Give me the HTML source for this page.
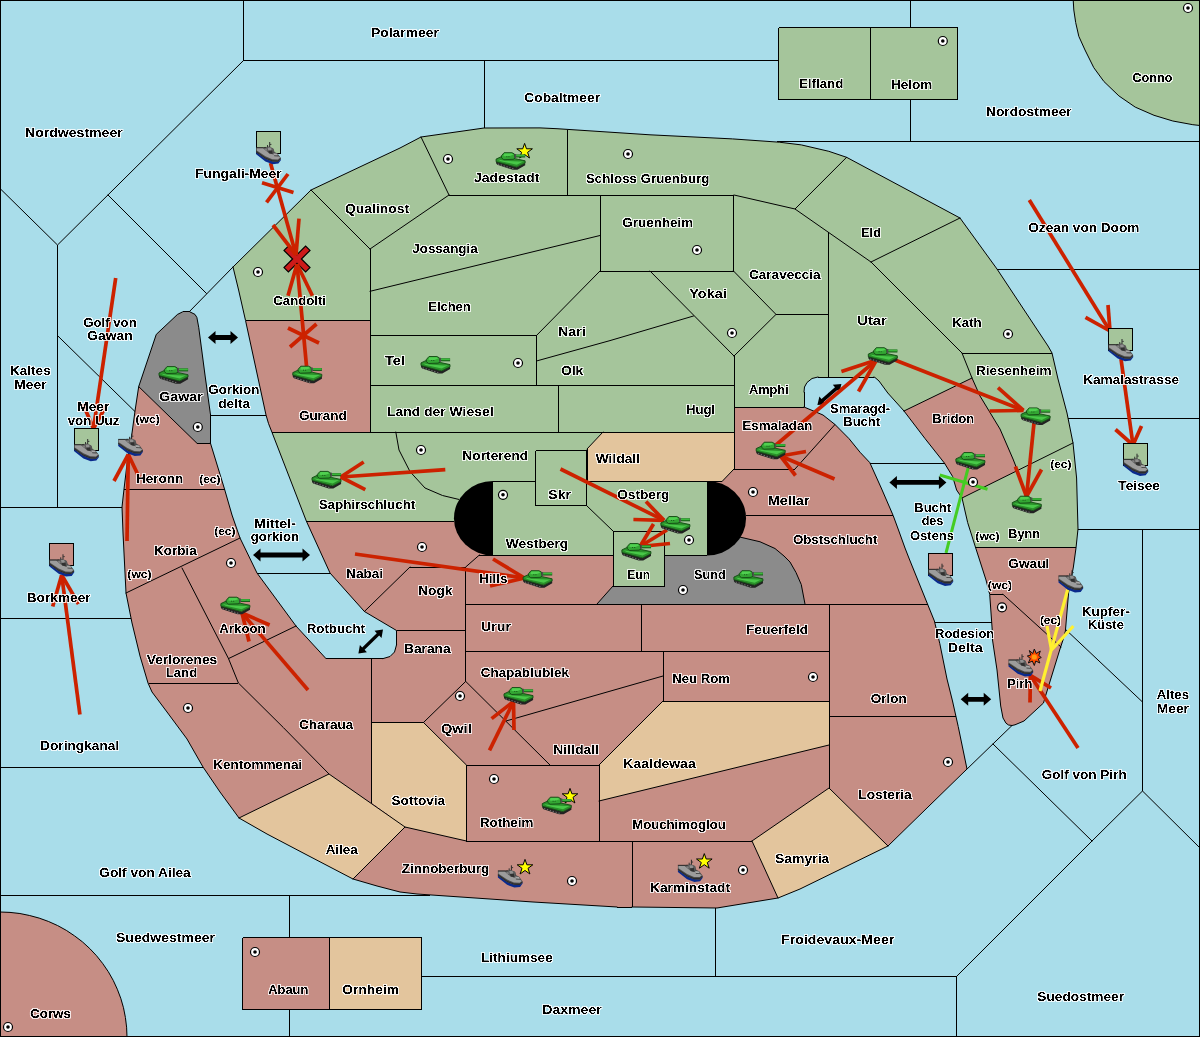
<!DOCTYPE html>
<html><head><meta charset="utf-8"><title>Map</title>
<style>html,body{margin:0;padding:0;background:#A9DDEA;overflow:hidden}svg{display:block}text{font-family:"Liberation Sans",sans-serif;font-weight:bold;font-size:13.4px;fill:#000}.s{font-size:11.5px}.b{fill:none;stroke:#000;stroke-width:1}.d{stroke-width:1;stroke-linecap:round;stroke-linejoin:round}</style></head><body>
<svg width="1200" height="1037" viewBox="0 0 1200 1037">
<rect width="1200" height="1037" fill="#A9DDEA"/>
<g class="b" shape-rendering="crispEdges"><polyline points="243.5,0 243.5,60.5 910.5,60.5"/><polyline points="57.5,245 57.5,507.5"/><polyline points="0,507.5 125,507.5"/><polyline points="484.5,60.5 484.5,130"/><polyline points="910.5,0 910.5,141.5"/><polyline points="777,141.5 1200,141.5"/><polyline points="995,269.5 1200,269.5"/><polyline points="1066,418.5 1200,418.5"/><polyline points="1076,529.5 1200,529.5"/><polyline points="1142.5,529.5 1142.5,791"/><polyline points="421,976.5 956.5,976.5 956.5,1037"/><polyline points="715.5,906 715.5,976.5"/><polyline points="0,618.5 133,618.5"/><polyline points="0,767.5 205,767.5"/><polyline points="0,895.5 430,895.5"/><polyline points="289.5,895.5 289.5,1037"/><polyline points="209,415.5 266,415.5"/><polyline points="256,573.5 331,573.5"/><polyline points="869,463.5 949,463.5"/><polyline points="934,622.5 993,622.5"/></g><g class="b d"><polyline points="243.5,60.5 57.5,245 0,188.5"/><polyline points="108,195 206.5,293.5"/><polyline points="233,267 189,312"/><polyline points="57.5,335.6 136,412.5"/><polyline points="1063,627 1142.5,702"/><polyline points="1142.5,791 1200,848"/><polyline points="1142.5,791 1092,841 956.5,976.5"/><polyline points="993,744 1092,841"/><polyline points="965,771 1012,725.5"/></g>
<g shape-rendering="crispEdges">
<polygon points="233,267 311,190 400,148 421,137 484,128 540,127.9 557,128.7 650,134.8 732.5,138.9 779.3,142.2 801.3,144.9 828.8,151.3 846.6,157.3 960,218 997,269 1048,346 1052,353 1058,379 1067,413 1073,443 1076.6,478 1078,529 1076,548 1073.4,567 1068.6,592.7 1065.4,631 1063,640 1060,649 1045,697.7 1043.5,703 1024,721 1015,724.8 1012,725.5 1008.5,725 1006,723.2 1003,718 1000.7,706 997,670 992.5,640 992.3,631 989.7,594.3 986,580 975.4,547 967.7,522.7 962,498 956.6,490 952.6,476.5 944.5,463.2 924.8,438.3 904,411 887.8,393 879,381 875,377.5 874,377 818,377 812,378.5 807,382.5 804.5,387 804,392 804,407 823,415 835,424.5 849,438.6 860,452.2 869.8,462.6 881.7,489 893.2,515.6 898.5,530 905,548 909.3,559 927.5,604 934.4,621 939.8,643.6 947,679 952.5,701 958.2,726.4 967,769 888,846 800,889 778,898 717,908 632,907 617,907 533,902 417,894 400,892 377,886 353,879 307,855 267,834 239,818 220,792 203,767 187,739 167,712 152,692 148,683 140,656 132,623 126,593 123,533 122,507 124,489 127,464 132,433 135,411 138.7,386.6 156.25,334.4 177.5,314.4 182.5,311.9 190,311.9 195,314.4 196.9,317.5 198.75,327.5 205,375 210.4,414 210.4,443 224.5,489 232,515 240,538 257,573 296,626 326,658.6 383,658.6 390,656.5 394.5,652 396.5,645 396.5,630.5 364.4,611.5 330,573 306.3,521 272,432.4 268.5,423.5 266,415 245.5,320.4 238.6,290" fill="#C68E85"/>
<polygon points="233,267 311,190 400,148 421,137 484,128 540,127.9 557,128.7 650,134.8 732.5,138.9 779.3,142.2 801.3,144.9 828.8,151.3 846.6,157.3 960,218 997,269 1048,346 1052,353 1058,379 1067,413 1073,443 1076.6,478 1078,529 1076,548 975.4,547 967.7,522.7 962,498 1017.5,470.5 1013,459 1000,429 980,396 972,378 904,411 887.8,393 879,381 875,377.5 874,377 818,377 812,378.5 807,382.5 804.5,387 804,392 804,407 734,407 734,432 603,432 587,449 587,482 707,482 707,555 664,555 664,586 613,586 613,555 493,555 470,545 454,521 306.3,521 272,432.4 370,432 370,320.4 245.5,320.4 238.6,290" fill="#A5C59B"/>
<rect x="535.5" y="450.5" width="51" height="55" fill="#A5C59B"/>
<polygon points="603,432 734,432 734,469 722,482 587,482 587,449" fill="#E3C59D"/>
<polygon points="371.6,722.5 423.5,722.5 466.4,765 466.4,841 405,827 371.6,802.5" fill="#E3C59D"/>
<polygon points="239,818 329,774 405,827 353,879 307,855 267,834" fill="#E3C59D"/>
<polygon points="663,701 829,701 829,745 599,801 599,765" fill="#E3C59D"/>
<polygon points="752,841 829,788 888,846 800,889 778,898" fill="#E3C59D"/>
<polygon points="664,555 707,555 720,552 740.5,537.2 760,541.75 775,548.5 784,556 790,562 796,572.5 801.25,584.5 805,604 597,604 613,586 664,586" fill="#8B8B8B"/>
<polygon points="138.7,386.6 156.25,334.4 177.5,314.4 182.5,311.9 190,311.9 195,314.4 196.9,317.5 198.75,327.5 205,375 210.4,414 210.4,443 196.7,443" fill="#8B8B8B"/>
<rect x="778.5" y="27.5" width="179" height="72" fill="#A5C59B"/>
<polygon points="1073.2,0 1073.8,10 1075.7,22.6 1078.8,36.3 1085,50 1093.8,67.7 1103.9,81.5 1118.9,95.9 1135.2,107.1 1154,115.3 1172.8,121 1192.8,124.7 1200,125.5 1200,0" fill="#A5C59B"/>
<polygon points="-0,912 10,912.4 19.9,913.5 29.6,915.5 39.2,918.1 48.6,921.5 57.7,925.6 66.4,930.4 74.6,935.9 82.5,941.9 89.8,948.6 96.6,955.8 102.7,963.5 108.3,971.7 113.2,980.3 117.3,989.2 120.8,998.4 123.5,1007.8 125.4,1017.4 126.6,1027.2 127,1037 0,1037" fill="#C68E85"/>
<rect x="242.5" y="937.5" width="87" height="72" fill="#C68E85"/>
<rect x="329.5" y="937.5" width="92" height="72" fill="#E3C59D"/>
</g>
<g class="b" shape-rendering="crispEdges"><polyline points="874,377 818,377"/><polyline points="804,392 804,407"/><polyline points="632,907 617,907"/><polyline points="182.5,311.9 190,311.9"/><polyline points="210.4,414 210.4,443"/><polyline points="326,658.6 383,658.6"/><polyline points="396.5,645 396.5,630.5"/><polyline points="370,249 370,432"/><polyline points="449,195 734,195"/><polyline points="567,129.8 567,195"/><polyline points="600,195 600,271 733.5,271 733.5,195"/><polyline points="536.5,335.5 536.5,385.4"/><polyline points="370,335.5 536.5,335.5"/><polyline points="734,356 734,469"/><polyline points="776,314.4 828,314.4"/><polyline points="828,232 828,377"/><polyline points="370,385.4 734,385.4"/><polyline points="558,385.4 558,432"/><polyline points="272,432 734,432"/><polyline points="734,407 804,407"/><polyline points="962,353 1052,353"/><polyline points="975.4,547.5 1076,547.5"/><polyline points="989.7,594.3 1003,594.3"/><polyline points="245.5,320.4 370,320.4"/><polyline points="587,449 587,481.5"/><polyline points="492.5,481.5 535.5,481.5"/><polyline points="586.5,481.5 722,481.5"/><polyline points="535.5,450.5 586.5,450.5 586.5,505.5 535.5,505.5 535.5,450.5"/><polyline points="492.5,481.5 492.5,555"/><polyline points="707,481.5 707,555"/><polyline points="479.4,555 613,555"/><polyline points="664,555 707,555"/><polyline points="613,531 664,531 664,586 613,586 613,531"/><polyline points="734,469 795,469"/><polyline points="746,515 893,515"/><polyline points="465.7,604 927.5,604"/><polyline points="641,604 641,651.5"/><polyline points="465.7,651.5 829,651.5"/><polyline points="829,604 829,788"/><polyline points="663,651.5 663,701 829,701"/><polyline points="829,716 955.5,716"/><polyline points="466.4,765 599,765 599,841"/><polyline points="466.4,765 466.4,841 752,841"/><polyline points="632,841 632,907"/><polyline points="371.6,722.5 423.5,722.5"/><polyline points="371.6,658.6 371.6,802.5"/><polyline points="149,683 238.4,683"/><polyline points="124,489 224.5,489"/><polyline points="196.7,443 210.4,443"/><polyline points="465.7,567 465.7,681.4"/><polyline points="396.5,630.3 465.7,630.3"/><polyline points="465.7,567 410,567"/><polyline points="306.3,521 454,521"/><polyline points="778.5,27.5 957.5,27.5 957.5,99.5 778.5,99.5 778.5,27.5"/><polyline points="870.5,27.5 870.5,99.5"/><polyline points="242.5,937.5 421.5,937.5 421.5,1009.5 242.5,1009.5 242.5,937.5"/><polyline points="329.5,937.5 329.5,1009.5"/></g><g class="b d"><polyline points="233,267 311,190 400,148 421,137 484,128 540,127.9 557,128.7 650,134.8 732.5,138.9 779.3,142.2 801.3,144.9 828.8,151.3 846.6,157.3 960,218 997,269 1048,346 1052,353 1058,379 1067,413 1073,443 1076.6,478 1078,529 1076,548 1073.4,567 1068.6,592.7 1065.4,631 1063,640 1060,649 1045,697.7 1043.5,703 1024,721 1015,724.8 1012,725.5 1008.5,725 1006,723.2 1003,718 1000.7,706 997,670 992.5,640 992.3,631 989.7,594.3 986,580 975.4,547 967.7,522.7 962,498 956.6,490 952.6,476.5 944.5,463.2 924.8,438.3 904,411 887.8,393 879,381 875,377.5 874,377"/><polyline points="818,377 812,378.5 807,382.5 804.5,387 804,392"/><polyline points="804,407 823,415 835,424.5 849,438.6 860,452.2 869.8,462.6 881.7,489 893.2,515.6 898.5,530 905,548 909.3,559 927.5,604 934.4,621 939.8,643.6 947,679 952.5,701 958.2,726.4 967,769 888,846 800,889 778,898 717,908 632,907"/><polyline points="617,907 533,902 417,894 400,892 377,886 353,879 307,855 267,834 239,818 220,792 203,767 187,739 167,712 152,692 148,683 140,656 132,623 126,593 123,533 122,507 124,489 127,464 132,433 135,411 138.7,386.6 156.25,334.4 177.5,314.4 182.5,311.9"/><polyline points="190,311.9 195,314.4 196.9,317.5 198.75,327.5 205,375 210.4,414"/><polyline points="210.4,443 224.5,489 232,515 240,538 257,573 296,626 326,658.6"/><polyline points="383,658.6 390,656.5 394.5,652 396.5,645"/><polyline points="396.5,630.5 364.4,611.5 330,573 306.3,521 272,432.4 268.5,423.5 266,415 245.5,320.4 238.6,290 233,267"/><polyline points="311,190 370,249"/><polyline points="370,249 449,195"/><polyline points="421,137 449,195"/><polyline points="734,195 795,209"/><polyline points="846.6,157.3 795,209 871,262 962,353"/><polyline points="370,291.3 600,235.5"/><polyline points="600,271 536.5,335.5"/><polyline points="536.5,361 610,340.6 693.5,316"/><polyline points="650,271 734,356"/><polyline points="733.5,271 776,314.4 734,356"/><polyline points="734,469 722,481.5"/><polyline points="960,218 871,262"/><polyline points="962,353 972,378 980,396 1000,429 1013,459 1017.5,470.5"/><polyline points="972,378 904,411"/><polyline points="962,498 1073,443"/><polyline points="1003,594.3 1061,647"/><polyline points="603,432 587,449"/><polyline points="586.5,505.5 613,531"/><polyline points="740.5,537.2 760,541.75 775,548.5 784,556 790,562 796,572.5 801.25,584.5 805,604"/><polyline points="597,604 613,586"/><polyline points="795,469 835,424.5"/><polyline points="663,676 506,721"/><polyline points="663,701 599,765"/><polyline points="599,801 829,745"/><polyline points="752,841 829,788 888,846"/><polyline points="752,841 778,898"/><polyline points="423.5,722.5 466.4,765"/><polyline points="466.4,841 405,827 353,879"/><polyline points="329,774 405,827"/><polyline points="182,568 228.5,658.6 238.4,683 283.4,727.6 329,774 239,818"/><polyline points="228.5,658.6 296,626"/><polyline points="240,538 126,593"/><polyline points="138.7,386.6 196.7,443"/><polyline points="465.7,681.4 423.5,722.5"/><polyline points="465.7,681.4 550,765"/><polyline points="479.4,555 465.7,567"/><polyline points="410,567 364.4,611.5"/><polyline points="395.8,432 399,450 410,471.6 425,488 442.5,495.5 458.7,499.4"/><polyline points="1073.2,0 1073.8,10 1075.7,22.6 1078.8,36.3 1085,50 1093.8,67.7 1103.9,81.5 1118.9,95.9 1135.2,107.1 1154,115.3 1172.8,121 1192.8,124.7 1200,125.5"/><polyline points="-0,912 10,912.4 19.9,913.5 29.6,915.5 39.2,918.1 48.6,921.5 57.7,925.6 66.4,930.4 74.6,935.9 82.5,941.9 89.8,948.6 96.6,955.8 102.7,963.5 108.3,971.7 113.2,980.3 117.3,989.2 120.8,998.4 123.5,1007.8 125.4,1017.4 126.6,1027.2 127,1037"/></g>
<rect class="b" shape-rendering="crispEdges" x="0.5" y="0.5" width="1199" height="1036"/>
<path d="M493,481 A39,37.2 0 0 0 493,555.5 Z" fill="#000"/>
<path d="M707,481 A39,37.2 0 0 1 707,555.5 Z" fill="#000"/>
<polygon points="208,337.5 215.5,344 215.5,339.9 230.5,339.9 230.5,344 238,337.5 230.5,331 230.5,335.1 215.5,335.1 215.5,331" fill="#000"/>
<polygon points="253,555 260.5,561.5 260.5,557.4 302.5,557.4 302.5,561.5 310,555 302.5,548.5 302.5,552.6 260.5,552.6 260.5,548.5" fill="#000"/>
<polygon points="358.4,653.5 366.9,652.2 364.6,649.8 379.2,635.6 381.5,638 383,629.5 374.5,630.8 376.8,633.2 362.2,647.4 359.9,645" fill="#000"/>
<polygon points="817.4,405 826,404.2 823.8,401.7 837.3,389.9 839.4,392.4 841.4,384 832.8,384.8 835,387.3 821.5,399.1 819.4,396.6" fill="#000"/>
<polygon points="889.4,482.4 896.9,488.9 896.9,484.8 938.9,484.8 938.9,488.9 946.4,482.4 938.9,475.9 938.9,480 896.9,480 896.9,475.9" fill="#000"/>
<polygon points="960.7,699.3 968.2,705.8 968.2,701.7 983.7,701.7 983.7,705.8 991.2,699.3 983.7,692.8 983.7,696.9 968.2,696.9 968.2,692.8" fill="#000"/>
<polygon transform="translate(297,259)" points="0,-4.4 8.6,-13 13,-8.6 4.4,0 13,8.6 8.6,13 0,4.4 -8.6,13 -13,8.6 -4.4,0 -13,-8.6 -8.6,-13" fill="#CC1A1A" stroke="#000" stroke-width="1.2"/>
<g stroke="#CC2200" stroke-width="3.7" fill="none" stroke-linecap="butt"><line x1="270.5" y1="163" x2="296" y2="255"/><line x1="296" y1="255" x2="273" y2="225"/><line x1="296" y1="255" x2="299" y2="218.6"/></g>
<g stroke="#CC2200" stroke-width="3.7" fill="none" stroke-linecap="butt"><line x1="262" y1="182.7" x2="293.5" y2="192.4"/></g>
<g stroke="#CC2200" stroke-width="3.7" fill="none" stroke-linecap="butt"><line x1="288" y1="174" x2="266.5" y2="202.4"/></g>
<g stroke="#CC2200" stroke-width="3.7" fill="none" stroke-linecap="butt"><line x1="306.5" y1="366" x2="297" y2="264"/><line x1="297" y1="264" x2="288" y2="295.7"/><line x1="297" y1="264" x2="312.4" y2="295.7"/></g>
<g stroke="#CC2200" stroke-width="3.7" fill="none" stroke-linecap="butt"><line x1="288" y1="328" x2="319" y2="343"/></g>
<g stroke="#CC2200" stroke-width="3.7" fill="none" stroke-linecap="butt"><line x1="316.5" y1="324" x2="290" y2="347"/></g>
<g stroke="#CC2200" stroke-width="3.7" fill="none" stroke-linecap="butt"><line x1="115.7" y1="278" x2="93.5" y2="428.5"/><line x1="93.5" y1="428.5" x2="83" y2="404"/><line x1="93.5" y1="428.5" x2="106" y2="406"/></g>
<g stroke="#CC2200" stroke-width="3.7" fill="none" stroke-linecap="butt"><line x1="127" y1="541" x2="128.3" y2="454.5"/><line x1="128.3" y1="454.5" x2="114" y2="481"/><line x1="128.3" y1="454.5" x2="140" y2="479"/></g>
<g stroke="#CC2200" stroke-width="3.7" fill="none" stroke-linecap="butt"><line x1="79.9" y1="714.5" x2="61.7" y2="575"/><line x1="61.7" y1="575" x2="52.7" y2="606.6"/><line x1="61.7" y1="575" x2="78.5" y2="604"/></g>
<g stroke="#CC2200" stroke-width="3.7" fill="none" stroke-linecap="butt"><line x1="445.3" y1="469.6" x2="340.7" y2="477"/><line x1="340.7" y1="477" x2="363.7" y2="462"/><line x1="340.7" y1="477" x2="365.3" y2="489.6"/></g>
<g stroke="#CC2200" stroke-width="3.7" fill="none" stroke-linecap="butt"><line x1="355" y1="554" x2="524.5" y2="578"/><line x1="524.5" y1="578" x2="493" y2="559"/><line x1="524.5" y1="578" x2="490" y2="586"/></g>
<g stroke="#CC2200" stroke-width="3.7" fill="none" stroke-linecap="butt"><line x1="308" y1="690" x2="242" y2="613"/><line x1="242" y1="613" x2="269.6" y2="625"/><line x1="242" y1="613" x2="249" y2="641.5"/></g>
<g stroke="#CC2200" stroke-width="3.7" fill="none" stroke-linecap="butt"><line x1="489.5" y1="750.4" x2="513.5" y2="701.5"/><line x1="513.5" y1="701.5" x2="491.6" y2="718.6"/><line x1="513.5" y1="701.5" x2="514" y2="730"/></g>
<g stroke="#CC2200" stroke-width="3.7" fill="none" stroke-linecap="butt"><line x1="560.5" y1="469" x2="664" y2="520.4"/><line x1="664" y1="520.4" x2="646" y2="501.5"/><line x1="664" y1="520.4" x2="633.4" y2="519.5"/></g>
<g stroke="#CC2200" stroke-width="3.7" fill="none" stroke-linecap="butt"><line x1="667" y1="530" x2="640" y2="546.5"/><line x1="640" y1="546.5" x2="653.5" y2="524"/><line x1="640" y1="546.5" x2="670" y2="543.5"/></g>
<g stroke="#CC2200" stroke-width="3.7" fill="none" stroke-linecap="butt"><line x1="770" y1="450" x2="876.5" y2="360"/><line x1="876.5" y1="360" x2="841.4" y2="371.4"/><line x1="876.5" y1="360" x2="858.5" y2="391.5"/></g>
<g stroke="#CC2200" stroke-width="3.7" fill="none" stroke-linecap="butt"><line x1="883.4" y1="355.5" x2="1023.5" y2="410.4"/><line x1="1023.5" y1="410.4" x2="998" y2="387.6"/><line x1="1023.5" y1="410.4" x2="989.6" y2="411"/></g>
<g stroke="#CC2200" stroke-width="3.7" fill="none" stroke-linecap="butt"><line x1="1034" y1="423" x2="1026.5" y2="496.5"/><line x1="1026.5" y1="496.5" x2="1015.4" y2="466.5"/><line x1="1026.5" y1="496.5" x2="1041.5" y2="469.5"/></g>
<g stroke="#CC2200" stroke-width="3.7" fill="none" stroke-linecap="butt"><line x1="834.5" y1="479" x2="780.5" y2="456"/><line x1="780.5" y1="456" x2="806" y2="451.5"/><line x1="780.5" y1="456" x2="795.5" y2="475.5"/></g>
<g stroke="#CC2200" stroke-width="3.7" fill="none" stroke-linecap="butt"><line x1="1029.3" y1="200" x2="1110" y2="331"/><line x1="1110" y1="331" x2="1085.5" y2="317.3"/><line x1="1110" y1="331" x2="1108" y2="305"/></g>
<g stroke="#CC2200" stroke-width="3.7" fill="none" stroke-linecap="butt"><line x1="1121" y1="359" x2="1133" y2="445"/><line x1="1133" y1="445" x2="1115.5" y2="429.5"/><line x1="1133" y1="445" x2="1141.5" y2="426"/></g>
<g stroke="#CC2200" stroke-width="3.7" fill="none" stroke-linecap="butt"><line x1="1078" y1="748" x2="1030.4" y2="675.4"/><line x1="1030.4" y1="675.4" x2="1051" y2="688"/><line x1="1030.4" y1="675.4" x2="1030" y2="702.5"/></g>
<g stroke="#44CC22" stroke-width="3" fill="none" stroke-linecap="butt"><line x1="968.4" y1="467" x2="946" y2="553"/></g>
<g stroke="#44CC22" stroke-width="3" fill="none" stroke-linecap="butt"><line x1="939.8" y1="475" x2="987.5" y2="489.3"/></g>
<g stroke="#FFF030" stroke-width="3.2" fill="none" stroke-linecap="butt"><line x1="1067.7" y1="589.5" x2="1040" y2="691"/><line x1="1051.5" y1="650" x2="1047" y2="626"/><line x1="1051.5" y1="650" x2="1073.4" y2="626"/></g>
<g>
<circle cx="942.8" cy="41" r="4.5" fill="#fff" stroke="#000" stroke-width="1.2"/><circle cx="942.8" cy="41" r="1.8" fill="#000"/>
<circle cx="1188" cy="8" r="4.5" fill="#fff" stroke="#000" stroke-width="1.2"/><circle cx="1188" cy="8" r="1.8" fill="#000"/>
<circle cx="448" cy="159" r="4.5" fill="#fff" stroke="#000" stroke-width="1.2"/><circle cx="448" cy="159" r="1.8" fill="#000"/>
<circle cx="628" cy="154" r="4.5" fill="#fff" stroke="#000" stroke-width="1.2"/><circle cx="628" cy="154" r="1.8" fill="#000"/>
<circle cx="697" cy="250" r="4.5" fill="#fff" stroke="#000" stroke-width="1.2"/><circle cx="697" cy="250" r="1.8" fill="#000"/>
<circle cx="732" cy="333" r="4.5" fill="#fff" stroke="#000" stroke-width="1.2"/><circle cx="732" cy="333" r="1.8" fill="#000"/>
<circle cx="258" cy="272" r="4.5" fill="#fff" stroke="#000" stroke-width="1.2"/><circle cx="258" cy="272" r="1.8" fill="#000"/>
<circle cx="518" cy="363" r="4.5" fill="#fff" stroke="#000" stroke-width="1.2"/><circle cx="518" cy="363" r="1.8" fill="#000"/>
<circle cx="1008" cy="334" r="4.5" fill="#fff" stroke="#000" stroke-width="1.2"/><circle cx="1008" cy="334" r="1.8" fill="#000"/>
<circle cx="421" cy="450" r="4.5" fill="#fff" stroke="#000" stroke-width="1.2"/><circle cx="421" cy="450" r="1.8" fill="#000"/>
<circle cx="503" cy="494.8" r="4.5" fill="#fff" stroke="#000" stroke-width="1.2"/><circle cx="503" cy="494.8" r="1.8" fill="#000"/>
<circle cx="689" cy="540" r="4.5" fill="#fff" stroke="#000" stroke-width="1.2"/><circle cx="689" cy="540" r="1.8" fill="#000"/>
<circle cx="683" cy="590" r="4.5" fill="#fff" stroke="#000" stroke-width="1.2"/><circle cx="683" cy="590" r="1.8" fill="#000"/>
<circle cx="753" cy="492" r="4.5" fill="#fff" stroke="#000" stroke-width="1.2"/><circle cx="753" cy="492" r="1.8" fill="#000"/>
<circle cx="422" cy="547" r="4.5" fill="#fff" stroke="#000" stroke-width="1.2"/><circle cx="422" cy="547" r="1.8" fill="#000"/>
<circle cx="197.8" cy="427" r="4.5" fill="#fff" stroke="#000" stroke-width="1.2"/><circle cx="197.8" cy="427" r="1.8" fill="#000"/>
<circle cx="231" cy="563" r="4.5" fill="#fff" stroke="#000" stroke-width="1.2"/><circle cx="231" cy="563" r="1.8" fill="#000"/>
<circle cx="973" cy="482" r="4.5" fill="#fff" stroke="#000" stroke-width="1.2"/><circle cx="973" cy="482" r="1.8" fill="#000"/>
<circle cx="1002" cy="607.3" r="4.5" fill="#fff" stroke="#000" stroke-width="1.2"/><circle cx="1002" cy="607.3" r="1.8" fill="#000"/>
<circle cx="813" cy="677" r="4.5" fill="#fff" stroke="#000" stroke-width="1.2"/><circle cx="813" cy="677" r="1.8" fill="#000"/>
<circle cx="460" cy="696" r="4.5" fill="#fff" stroke="#000" stroke-width="1.2"/><circle cx="460" cy="696" r="1.8" fill="#000"/>
<circle cx="494" cy="779" r="4.5" fill="#fff" stroke="#000" stroke-width="1.2"/><circle cx="494" cy="779" r="1.8" fill="#000"/>
<circle cx="572" cy="881" r="4.5" fill="#fff" stroke="#000" stroke-width="1.2"/><circle cx="572" cy="881" r="1.8" fill="#000"/>
<circle cx="743" cy="870" r="4.5" fill="#fff" stroke="#000" stroke-width="1.2"/><circle cx="743" cy="870" r="1.8" fill="#000"/>
<circle cx="948" cy="762" r="4.5" fill="#fff" stroke="#000" stroke-width="1.2"/><circle cx="948" cy="762" r="1.8" fill="#000"/>
<circle cx="188" cy="708" r="4.5" fill="#fff" stroke="#000" stroke-width="1.2"/><circle cx="188" cy="708" r="1.8" fill="#000"/>
<circle cx="255" cy="952" r="4.5" fill="#fff" stroke="#000" stroke-width="1.2"/><circle cx="255" cy="952" r="1.8" fill="#000"/>
<circle cx="8" cy="1027" r="4.5" fill="#fff" stroke="#000" stroke-width="1.2"/><circle cx="8" cy="1027" r="1.8" fill="#000"/>
</g>
<defs>
<g id="tank"><path d="M0.3,8.8 L0.3,10.8 L1.5,12.4 L17,17.4 L21.6,17.4 L29.4,12.9 L29.4,10.3 L21,14.8 Z" fill="#222"/><path d="M2,11.6 L18,16.6" stroke="#707070" stroke-width="1.1" stroke-dasharray="1.4 1.6"/><path d="M0.3,6.7 L6,4 L20,6.4 L29.3,8.4 L29.3,10.6 L21,14.7 L19,14.3 L0.3,9.3 Z" fill="#2a902a" stroke="#134a13" stroke-width=".9" stroke-linejoin="round"/><path d="M2,7.1 L9,8.4 L23,9.2 L27.5,9 L21,12.3 L5,8.8 Z" fill="#48c848"/><path d="M5.6,3.4 L8.3,0.3 L16.2,0.3 L18.7,1.7 L19,5.4 L17.9,6.9 L8,7.3 L5.8,5.5 Z" fill="#33a633" stroke="#134a13" stroke-width=".9" stroke-linejoin="round"/><path d="M8.6,1 L16,1 L17.6,2.4 L12.5,4.2 L7.6,3.6 Z" fill="#50d050"/><rect x="20" y="2.1" width="9.4" height="3" fill="#1a5c1a"/><rect x="20" y="2.3" width="9.2" height="1.7" fill="#3ab83a"/><rect x="18.8" y="1.6" width="1.5" height="4" fill="#4d4d4d"/><rect x="10.6" y="3.8" width="1" height="1" fill="#145014"/><rect x="12.6" y="3.8" width="1" height="1" fill="#145014"/></g>
<g id="ship"><path d="M0.2,10 L9.4,16.5 L16.3,19.3 L21.9,19.5 L24.8,16.9 L25,18 L22.4,21.6 L16.7,22.3 L9.4,19.5 L0.2,12.2 Z" fill="#0a2a8c"/><path d="M0.2,5.5 L7.6,5.5 L10.2,5.4 L16.3,5.9 L17.6,6.9 L18.5,10 L21.5,11.5 L24.6,15.6 L24.8,17.1 L21.9,19.7 L16.3,19.5 L9.4,16.7 L0.2,10.2 Z" fill="#4c4c4c"/><path d="M0.2,9 L9.4,15.5 L16.3,18.2 L21.9,18.4 L24.8,15.9 L24.8,17.1 L21.9,19.7 L16.3,19.5 L9.4,16.7 L0.2,10.2 Z" fill="#2b2b2b"/><path d="M0.8,6.2 L7,6.2 L10,8.6 L14,11.5 L20.5,13.2 L24.2,15.6 L22,17.4 L16.3,17.2 L9.4,14.3 L0.8,8.5 Z" fill="#9c9c9c"/><path d="M7.6,6.3 L10.2,5.4 L11.3,4.5 L13.3,4.6 L16.3,5.9 L17.6,6.9 L17.6,9.6 L16.5,12.3 L13,11.3 L9.8,8.6 Z" fill="#5c5c5c"/><path d="M11.7,5.8 L14.5,5.6 L15.6,7 L15,8.5 L12.2,8.4 Z" fill="#909090"/><path d="M8.4,7 L10.6,6.6 L11.2,8.6 L9.6,8.8 Z" fill="#808080"/><path d="M12.2,8.8 L16.3,8.4 L16.6,12 L13,11.2 Z" fill="#303030"/><path d="M17.4,11.2 L21.3,11.8 L22,13.6 L18,13.3 Z" fill="#a8a8a8"/><path d="M18,13.3 L22,13.6 L22.2,14.4 L18.3,14.2 Z" fill="#444"/><path d="M0.2,5.6 L7.6,5.6 L10.2,5.4" stroke="#1e1e1e" stroke-width=".8" fill="none"/><rect x="13.2" y="0" width="1" height="5" fill="#2a2a2a"/><rect x="14" y="1.9" width="1.4" height=".9" fill="#2a2a2a"/><rect x="11" y="3" width=".9" height="2.2" fill="#2a2a2a"/></g>
<g id="star"><path d="M0,-7.9 L1.9,-2.5 L7.8,-2.5 L3,1.05 L4.9,6.7 L0,3.2 L-4.9,6.7 L-3,1.05 L-7.8,-2.5 L-1.9,-2.5 Z" fill="#FFFF00" stroke="#000" stroke-width="1" stroke-linejoin="miter"/></g>
</defs>
<use href="#star" x="524.6" y="151.3"/>
<use href="#star" x="570" y="796.3"/>
<use href="#star" x="525" y="867.3"/>
<use href="#star" x="704.3" y="861.5"/>
<use href="#tank" x="495.8" y="152.4"/>
<use href="#tank" x="158.7" y="366.3"/>
<use href="#tank" x="292.5" y="365.9"/>
<use href="#tank" x="420.7" y="356.2"/>
<use href="#tank" x="311.7" y="471.1"/>
<use href="#tank" x="220.6" y="596.9"/>
<use href="#tank" x="522.8" y="570.4"/>
<use href="#tank" x="660.6" y="516.2"/>
<use href="#tank" x="621.6" y="543.2"/>
<use href="#tank" x="733.6" y="570.4"/>
<use href="#tank" x="755.9" y="441.9"/>
<use href="#tank" x="868" y="347.4"/>
<use href="#tank" x="1020.8" y="407.6"/>
<use href="#tank" x="955.6" y="452.2"/>
<use href="#tank" x="1012" y="495.9"/>
<use href="#tank" x="503.7" y="687.2"/>
<use href="#tank" x="542" y="796.9"/>
<rect x="256.5" y="131.5" width="24" height="22" fill="#A5C59B" stroke="#000" stroke-width="1" shape-rendering="crispEdges"/>
<use href="#ship" x="256" y="142"/>
<rect x="74.5" y="428.5" width="24" height="22" fill="#A5C59B" stroke="#000" stroke-width="1" shape-rendering="crispEdges"/>
<use href="#ship" x="74" y="439"/>
<use href="#ship" x="118" y="433.8"/>
<rect x="49.8" y="543.8" width="24" height="22" fill="#C68E85" stroke="#000" stroke-width="1" shape-rendering="crispEdges"/>
<use href="#ship" x="49.3" y="554.3"/>
<rect x="1108.8" y="328.5" width="24" height="22" fill="#A5C59B" stroke="#000" stroke-width="1" shape-rendering="crispEdges"/>
<use href="#ship" x="1108.3" y="339"/>
<rect x="1123.8" y="443.2" width="24" height="22" fill="#A5C59B" stroke="#000" stroke-width="1" shape-rendering="crispEdges"/>
<use href="#ship" x="1123.3" y="453.7"/>
<rect x="928.8" y="553.2" width="24" height="22" fill="#C68E85" stroke="#000" stroke-width="1" shape-rendering="crispEdges"/>
<use href="#ship" x="928.3" y="563.7"/>
<use href="#ship" x="1058.3" y="570.3"/>
<use href="#ship" x="1008.3" y="654.3"/>
<use href="#ship" x="497.7" y="865.3"/>
<use href="#ship" x="677.7" y="859.7"/>
<g transform="translate(1034.3,657)"><path d="M0,-8 L2,-3.5 L6,-6 L4.5,-1.5 L7,0.5 L4,2 L5.5,6 L1.5,4 L0,8.5 L-2,4 L-6,6 L-4,1.5 L-7,-1 L-3.5,-2 L-5,-6.5 L-1.5,-3.5 Z" fill="#FF4A00" stroke="#111" stroke-width="1"/><circle r="2.6" fill="#FF9A10"/></g>
<filter id="t" x="0" y="0" width="1200" height="1037" filterUnits="userSpaceOnUse" color-interpolation-filters="sRGB"><feComponentTransfer in="SourceAlpha" result="a"><feFuncA type="linear" slope="4" intercept="-1.5"/></feComponentTransfer><feMorphology in="a" operator="dilate" radius="1" result="d"/><feFlood flood-color="#fff" flood-opacity=".8"/><feComposite in2="d" operator="in" result="halo"/><feFlood flood-color="#000"/><feComposite in2="a" operator="in" result="ink"/><feMerge><feMergeNode in="halo"/><feMergeNode in="ink"/></feMerge></filter>
<g filter="url(#t)">
<text x="25" y="136.7" textLength="97.7" lengthAdjust="spacingAndGlyphs">Nordwestmeer</text>
<text x="195" y="178.3" textLength="86.7" lengthAdjust="spacingAndGlyphs">Fungali-Meer</text>
<text x="345" y="213" textLength="64.0" lengthAdjust="spacingAndGlyphs">Qualinost</text>
<text x="273.3" y="305.3" textLength="52.7" lengthAdjust="spacingAndGlyphs">Candolti</text>
<text x="83.3" y="326.7" textLength="53.4" lengthAdjust="spacingAndGlyphs">Golf von</text>
<text x="87.3" y="340.3" textLength="45.4" lengthAdjust="spacingAndGlyphs">Gawan</text>
<text x="371" y="37" textLength="68.0" lengthAdjust="spacingAndGlyphs">Polarmeer</text>
<text x="524.3" y="101.7" textLength="75.7" lengthAdjust="spacingAndGlyphs">Cobaltmeer</text>
<text x="474" y="181.7" textLength="65.3" lengthAdjust="spacingAndGlyphs">Jadestadt</text>
<text x="586" y="182.7" textLength="123.3" lengthAdjust="spacingAndGlyphs">Schloss Gruenburg</text>
<text x="622.3" y="226.7" textLength="71.0" lengthAdjust="spacingAndGlyphs">Gruenheim</text>
<text x="412.3" y="252.7" textLength="65.4" lengthAdjust="spacingAndGlyphs">Jossangia</text>
<text x="428.3" y="310.7" textLength="42.4" lengthAdjust="spacingAndGlyphs">Elchen</text>
<text x="558" y="335.7" textLength="27.7" lengthAdjust="spacingAndGlyphs">Nari</text>
<text x="689.3" y="298.3" textLength="37.4" lengthAdjust="spacingAndGlyphs">Yokai</text>
<text x="749" y="279.3" textLength="71.6" lengthAdjust="spacingAndGlyphs">Caraveccia</text>
<text x="799" y="88.3" textLength="44.3" lengthAdjust="spacingAndGlyphs">Elfland</text>
<text x="891" y="89.3" textLength="41.3" lengthAdjust="spacingAndGlyphs">Helom</text>
<text x="1132.5" y="81.5" textLength="39.9" lengthAdjust="spacingAndGlyphs">Conno</text>
<text x="986" y="115.7" textLength="85.7" lengthAdjust="spacingAndGlyphs">Nordostmeer</text>
<text x="1028.3" y="231.7" textLength="111.0" lengthAdjust="spacingAndGlyphs">Ozean von Doom</text>
<text x="861" y="237.3" textLength="20.0" lengthAdjust="spacingAndGlyphs">Eld</text>
<text x="857.3" y="324.7" textLength="29.4" lengthAdjust="spacingAndGlyphs">Utar</text>
<text x="952.3" y="326.7" textLength="29.4" lengthAdjust="spacingAndGlyphs">Kath</text>
<text x="10" y="375.3" textLength="40.7" lengthAdjust="spacingAndGlyphs">Kaltes</text>
<text x="14.3" y="388.7" textLength="32.4" lengthAdjust="spacingAndGlyphs">Meer</text>
<text x="77.3" y="411.3" textLength="32.0" lengthAdjust="spacingAndGlyphs">Meer</text>
<text x="67.7" y="425" textLength="51.6" lengthAdjust="spacingAndGlyphs">von Uuz</text>
<text x="159.3" y="401" textLength="43.4" lengthAdjust="spacingAndGlyphs">Gawar</text>
<text x="208.3" y="394.3" textLength="51.0" lengthAdjust="spacingAndGlyphs">Gorkion</text>
<text x="218.3" y="408" textLength="31.7" lengthAdjust="spacingAndGlyphs">delta</text>
<text x="299" y="420" textLength="47.7" lengthAdjust="spacingAndGlyphs">Gurand</text>
<text x="136" y="483.3" textLength="47.3" lengthAdjust="spacingAndGlyphs">Heronn</text>
<text x="154" y="555.2" textLength="42.7" lengthAdjust="spacingAndGlyphs">Korbia</text>
<text x="254" y="527.7" textLength="42.0" lengthAdjust="spacingAndGlyphs">Mittel-</text>
<text x="250.7" y="540.5" textLength="48.3" lengthAdjust="spacingAndGlyphs">gorkion</text>
<text x="318.7" y="509" textLength="96.6" lengthAdjust="spacingAndGlyphs">Saphirschlucht</text>
<text x="26.7" y="601.7" textLength="64.0" lengthAdjust="spacingAndGlyphs">Borkmeer</text>
<text x="219.3" y="633.3" textLength="46.4" lengthAdjust="spacingAndGlyphs">Arkoon</text>
<text x="346" y="578.3" textLength="37.3" lengthAdjust="spacingAndGlyphs">Nabai</text>
<text x="306.7" y="633.3" textLength="58.3" lengthAdjust="spacingAndGlyphs">Rotbucht</text>
<text x="146.7" y="663.7" textLength="70.6" lengthAdjust="spacingAndGlyphs">Verlorenes</text>
<text x="165.7" y="677" textLength="31.6" lengthAdjust="spacingAndGlyphs">Land</text>
<text x="385" y="365" textLength="20.0" lengthAdjust="spacingAndGlyphs">Tel</text>
<text x="561" y="375" textLength="22.3" lengthAdjust="spacingAndGlyphs">Olk</text>
<text x="387" y="416" textLength="106.5" lengthAdjust="spacingAndGlyphs">Land der Wiesel</text>
<text x="686" y="414.3" textLength="29.0" lengthAdjust="spacingAndGlyphs">Hugl</text>
<text x="749" y="393.7" textLength="39.5" lengthAdjust="spacingAndGlyphs">Amphi</text>
<text x="742.5" y="430" textLength="69.9" lengthAdjust="spacingAndGlyphs">Esmaladan</text>
<text x="462.3" y="460.3" textLength="66.0" lengthAdjust="spacingAndGlyphs">Norterend</text>
<text x="595.7" y="462.7" textLength="44.3" lengthAdjust="spacingAndGlyphs">Wildall</text>
<text x="548.3" y="498.7" textLength="22.7" lengthAdjust="spacingAndGlyphs">Skr</text>
<text x="617.3" y="499.3" textLength="52.0" lengthAdjust="spacingAndGlyphs">Ostberg</text>
<text x="505.7" y="547.7" textLength="62.6" lengthAdjust="spacingAndGlyphs">Westberg</text>
<text x="767.7" y="505.3" textLength="41.8" lengthAdjust="spacingAndGlyphs">Mellar</text>
<text x="627.3" y="578.7" textLength="22.7" lengthAdjust="spacingAndGlyphs">Eun</text>
<text x="694" y="579.3" textLength="31.7" lengthAdjust="spacingAndGlyphs">Sund</text>
<text x="479.3" y="583.3" textLength="28.0" lengthAdjust="spacingAndGlyphs">Hills</text>
<text x="418.3" y="594.5" textLength="34.0" lengthAdjust="spacingAndGlyphs">Nogk</text>
<text x="481" y="631" textLength="30.0" lengthAdjust="spacingAndGlyphs">Urur</text>
<text x="745.7" y="634.3" textLength="62.6" lengthAdjust="spacingAndGlyphs">Feuerfeld</text>
<text x="404" y="652.7" textLength="46.7" lengthAdjust="spacingAndGlyphs">Barana</text>
<text x="480.7" y="676.6" textLength="88.3" lengthAdjust="spacingAndGlyphs">Chapablublek</text>
<text x="672.3" y="682.7" textLength="57.7" lengthAdjust="spacingAndGlyphs">Neu Rom</text>
<text x="976" y="375.3" textLength="75.5" lengthAdjust="spacingAndGlyphs">Riesenheim</text>
<text x="1083.3" y="384" textLength="95.7" lengthAdjust="spacingAndGlyphs">Kamalastrasse</text>
<text x="830" y="412.7" textLength="60.0" lengthAdjust="spacingAndGlyphs">Smaragd-</text>
<text x="843.3" y="426" textLength="36.7" lengthAdjust="spacingAndGlyphs">Bucht</text>
<text x="932.3" y="422.7" textLength="42.0" lengthAdjust="spacingAndGlyphs">Bridon</text>
<text x="1118.3" y="490.3" textLength="41.7" lengthAdjust="spacingAndGlyphs">Teisee</text>
<text x="914.3" y="511.7" textLength="36.7" lengthAdjust="spacingAndGlyphs">Bucht</text>
<text x="921.7" y="525.3" textLength="21.6" lengthAdjust="spacingAndGlyphs">des</text>
<text x="910" y="540.3" textLength="44.0" lengthAdjust="spacingAndGlyphs">Ostens</text>
<text x="793" y="544.3" textLength="84.3" lengthAdjust="spacingAndGlyphs">Obstschlucht</text>
<text x="1008.3" y="537.7" textLength="31.7" lengthAdjust="spacingAndGlyphs">Bynn</text>
<text x="1008.3" y="567.7" textLength="41.0" lengthAdjust="spacingAndGlyphs">Gwaul</text>
<text x="1081.7" y="616" textLength="48.3" lengthAdjust="spacingAndGlyphs">Kupfer-</text>
<text x="1087.7" y="629.3" textLength="36.3" lengthAdjust="spacingAndGlyphs">Küste</text>
<text x="935" y="638.3" textLength="59.3" lengthAdjust="spacingAndGlyphs">Rodesion</text>
<text x="947.7" y="652" textLength="35.0" lengthAdjust="spacingAndGlyphs">Delta</text>
<text x="1007.3" y="687.7" textLength="25.0" lengthAdjust="spacingAndGlyphs">Pirh</text>
<text x="870.7" y="702.7" textLength="36.0" lengthAdjust="spacingAndGlyphs">Orlon</text>
<text x="1156.7" y="699" textLength="32.3" lengthAdjust="spacingAndGlyphs">Altes</text>
<text x="1156.7" y="712.7" textLength="32.3" lengthAdjust="spacingAndGlyphs">Meer</text>
<text x="40" y="749.7" textLength="79.3" lengthAdjust="spacingAndGlyphs">Doringkanal</text>
<text x="299" y="729.3" textLength="54.3" lengthAdjust="spacingAndGlyphs">Charaua</text>
<text x="213.3" y="769.3" textLength="89.0" lengthAdjust="spacingAndGlyphs">Kentommenai</text>
<text x="325.7" y="854.3" textLength="32.0" lengthAdjust="spacingAndGlyphs">Ailea</text>
<text x="99.3" y="877" textLength="91.4" lengthAdjust="spacingAndGlyphs">Golf von Ailea</text>
<text x="116" y="942" textLength="99.0" lengthAdjust="spacingAndGlyphs">Suedwestmeer</text>
<text x="268.3" y="994.3" textLength="40.0" lengthAdjust="spacingAndGlyphs">Abaun</text>
<text x="342.3" y="994.3" textLength="56.7" lengthAdjust="spacingAndGlyphs">Ornheim</text>
<text x="30" y="1018" textLength="41.0" lengthAdjust="spacingAndGlyphs">Corws</text>
<text x="391.6" y="805.3" textLength="53.4" lengthAdjust="spacingAndGlyphs">Sottovia</text>
<text x="441" y="732.7" textLength="30.7" lengthAdjust="spacingAndGlyphs">Qwil</text>
<text x="553.3" y="754.3" textLength="45.7" lengthAdjust="spacingAndGlyphs">Nilldall</text>
<text x="623.3" y="768" textLength="72.4" lengthAdjust="spacingAndGlyphs">Kaaldewaa</text>
<text x="480" y="827" textLength="53.3" lengthAdjust="spacingAndGlyphs">Rotheim</text>
<text x="632.3" y="828.7" textLength="93.4" lengthAdjust="spacingAndGlyphs">Mouchimoglou</text>
<text x="401.7" y="873" textLength="87.6" lengthAdjust="spacingAndGlyphs">Zinnoberburg</text>
<text x="650" y="892" textLength="80.0" lengthAdjust="spacingAndGlyphs">Karminstadt</text>
<text x="775" y="862.7" textLength="54.3" lengthAdjust="spacingAndGlyphs">Samyria</text>
<text x="481" y="962" textLength="71.7" lengthAdjust="spacingAndGlyphs">Lithiumsee</text>
<text x="542.3" y="1013.7" textLength="59.4" lengthAdjust="spacingAndGlyphs">Daxmeer</text>
<text x="858.3" y="798.7" textLength="53.4" lengthAdjust="spacingAndGlyphs">Losteria</text>
<text x="1041.7" y="778.7" textLength="85.0" lengthAdjust="spacingAndGlyphs">Golf von Pirh</text>
<text x="781" y="943.7" textLength="113.3" lengthAdjust="spacingAndGlyphs">Froidevaux-Meer</text>
<text x="1037.3" y="1001" textLength="86.7" lengthAdjust="spacingAndGlyphs">Suedostmeer</text>
<text class="s" x="135.45" y="423" textLength="24.3" lengthAdjust="spacingAndGlyphs">(wc)</text>
<text class="s" x="199.2" y="482.5" textLength="21.2" lengthAdjust="spacingAndGlyphs">(ec)</text>
<text class="s" x="214.2" y="534.5" textLength="21.2" lengthAdjust="spacingAndGlyphs">(ec)</text>
<text class="s" x="127.35" y="577.5" textLength="24.3" lengthAdjust="spacingAndGlyphs">(wc)</text>
<text class="s" x="1050.2" y="467.5" textLength="21.2" lengthAdjust="spacingAndGlyphs">(ec)</text>
<text class="s" x="975.35" y="540" textLength="24.3" lengthAdjust="spacingAndGlyphs">(wc)</text>
<text class="s" x="987.85" y="588.5" textLength="24.3" lengthAdjust="spacingAndGlyphs">(wc)</text>
<text class="s" x="1039.9" y="624" textLength="21.2" lengthAdjust="spacingAndGlyphs">(ec)</text>
</g>
</svg></body></html>
